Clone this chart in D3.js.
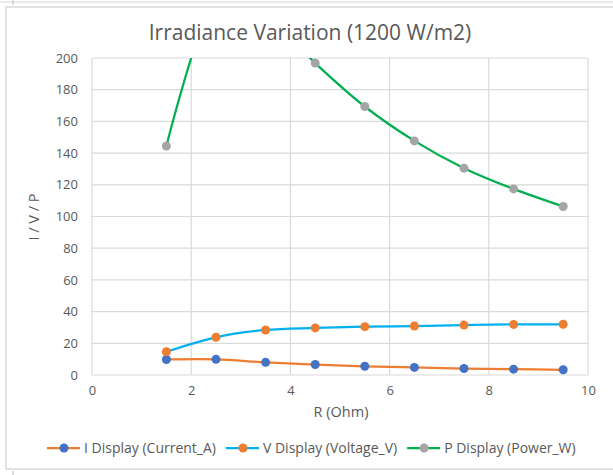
<!DOCTYPE html>
<html>
<head>
<meta charset="utf-8">
<script src="https://cdn.jsdelivr.net/npm/d3@7"></script>
<style>
  html, body { margin: 0; padding: 0; background: #ffffff; }
  svg { display: block; }
  text { font-family: "Open Sans", "Liberation Sans", sans-serif; fill: #595959; }
</style>
</head>
<body>
<svg id="chart" width="613" height="475"></svg>
<script>
// ---- data ----
const resistance = [1.5, 2.5, 3.5, 4.5, 5.5, 6.5, 7.5, 8.5, 9.5];
const currentA  = [9.8, 9.9, 8.0, 6.6, 5.5, 4.8, 4.1, 3.7, 3.3];
const voltageV  = [14.7, 23.8, 28.4, 29.7, 30.5, 30.9, 31.5, 31.9, 32.0];
const powerW    = [144.5, 240, 228, 196.8, 169.4, 147.7, 130.5, 117.4, 106.3];
const xTicks = [0, 2, 4, 6, 8, 10];
const yTicks = [0, 20, 40, 60, 80, 100, 120, 140, 160, 180, 200];
const seriesNames = ["I Display (Current_A)", "V Display (Voltage_V)", "P Display (Power_W)"];
const titleText = "Irradiance Variation (1200 W/m2)";
const xLabel = "R (Ohm)";
const yLabel = "I / V / P";

const series = [
  { name: seriesNames[0], values: currentA, line: "#ED7D31", marker: "#4472C4" },
  { name: seriesNames[1], values: voltageV, line: "#00B0F0", marker: "#ED7D31" },
  { name: seriesNames[2], values: powerW,   line: "#00B050", marker: "#A5A5A5" }
];

const svg = d3.select("#chart");
const W = 613, H = 475;
const plot = { left: 92, right: 588, top: 58, bottom: 375 };

const x = d3.scaleLinear().domain([0, 10]).range([plot.left, plot.right]);
const y = d3.scaleLinear().domain([0, 200]).range([plot.bottom, plot.top]);

// sheet artifacts
svg.append("line").attr("x1", 0).attr("x2", W).attr("y1", 2).attr("y2", 2)
  .attr("stroke", "#d4d4d4").attr("stroke-width", 1);
svg.append("line").attr("x1", 13).attr("x2", 13).attr("y1", 0).attr("y2", 5)
  .attr("stroke", "#bdbdbd").attr("stroke-width", 1);
svg.append("line").attr("x1", 13).attr("x2", 13).attr("y1", 471).attr("y2", 475)
  .attr("stroke", "#bdbdbd").attr("stroke-width", 1);

// chart frame
svg.append("rect").attr("x", 6).attr("y", 7).attr("width", W + 10).attr("height", 462)
  .attr("fill", "#ffffff").attr("stroke", "#d9d9d9").attr("stroke-width", 1.5);

// title
svg.append("text").attr("x", 310).attr("y", 40).attr("text-anchor", "middle")
  .style("font-size", "21px").text(titleText);

// gridlines
const grid = svg.append("g");
grid.selectAll("line.h").data(yTicks).enter().append("line")
  .attr("x1", plot.left).attr("x2", plot.right)
  .attr("y1", d => y(d)).attr("y2", d => y(d))
  .attr("stroke", "#d9d9d9").attr("stroke-width", 1.2);
grid.selectAll("line.v").data(xTicks).enter().append("line")
  .attr("y1", plot.top).attr("y2", plot.bottom)
  .attr("x1", d => x(d)).attr("x2", d => x(d))
  .attr("stroke", "#d9d9d9").attr("stroke-width", 1.2);

// axes (labels only)
const xAxis = svg.append("g").attr("transform", `translate(0,${plot.bottom})`)
  .call(d3.axisBottom(x).tickValues(xTicks).tickSize(0).tickPadding(11));
xAxis.select(".domain").remove();
xAxis.selectAll("text").style("font-size", "13px").style("font-family", "'Open Sans', sans-serif").attr("fill", "#595959");

const yAxis = svg.append("g").attr("transform", `translate(${plot.left},0)`)
  .call(d3.axisLeft(y).tickValues(yTicks).tickSize(0).tickPadding(14));
yAxis.select(".domain").remove();
yAxis.selectAll("text").style("font-size", "13px").style("font-family", "'Open Sans', sans-serif").attr("fill", "#595959");

// axis titles
svg.append("text").attr("x", 341).attr("y", 417).attr("text-anchor", "middle")
  .style("font-size", "14.5px").text(xLabel);
svg.append("text").attr("transform", "translate(39,217) rotate(-90)")
  .attr("text-anchor", "middle").style("font-size", "14.5px").text(yLabel);

// clip
svg.append("clipPath").attr("id", "clip").append("rect")
  .attr("x", plot.left - 10).attr("y", plot.top)
  .attr("width", plot.right - plot.left + 20).attr("height", plot.bottom - plot.top + 10);

const line = d3.line()
  .x(d => x(d[0])).y(d => y(d[1]))
  .curve(d3.curveCardinal.tension(0));

const marks = svg.append("g").attr("clip-path", "url(#clip)");
series.forEach(s => {
  const pts = resistance.map((r, i) => [r, s.values[i]]);
  marks.append("path").datum(pts).attr("d", line)
    .attr("fill", "none").attr("stroke", s.line).attr("stroke-width", 2.25);
});
series.forEach(s => {
  const pts = resistance.map((r, i) => [r, s.values[i]]);
  marks.selectAll(null).data(pts.filter(p => p[1] <= 200)).enter().append("circle")
    .attr("cx", d => x(d[0])).attr("cy", d => y(d[1])).attr("r", 4.5)
    .attr("fill", s.marker);
});

// legend
const legend = svg.append("g");
let lx = 47;
const ly = 448;
series.forEach(s => {
  legend.append("line").attr("x1", lx).attr("x2", lx + 33).attr("y1", ly).attr("y2", ly)
    .attr("stroke", s.line).attr("stroke-width", 2.25);
  legend.append("circle").attr("cx", lx + 17).attr("cy", ly).attr("r", 4.5).attr("fill", s.marker);
  const t = legend.append("text").attr("x", lx + 37).attr("y", ly + 5)
    .style("font-size", "14px").text(s.name);
  lx += 37 + t.node().getComputedTextLength() + 10;
});
</script>
</body>
</html>
